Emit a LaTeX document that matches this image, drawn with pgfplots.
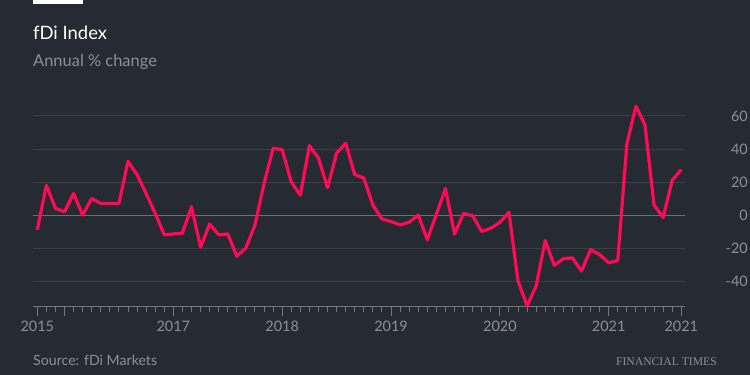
\documentclass[border=0pt]{standalone}
\usepackage{pgfplots}
\pgfplotsset{compat=1.18}
\usepackage{fontspec}
\setmainfont{Lato}
\newfontfamily\ftserif{Liberation Serif}
\definecolor{bg}{HTML}{262A33}
\definecolor{linec}{HTML}{FF0A54}
\definecolor{gridc}{HTML}{3A3E48}
\definecolor{zeroc}{HTML}{6A6D74}
\definecolor{txt}{HTML}{8E9096}
\definecolor{axc}{HTML}{73767D}
\pgfplotstableread{
i v
0 -9
1 18
2 4
3 2
4 13
5 0
6 10
7 7
8 7
9 7
10 32.5
11 24.5
12 13
13 1
14 -12
15 -11.5
16 -11
17 5
18 -19.5
19 -5.5
20 -12
21 -11.5
22 -25
23 -20
24 -6
25 19
26 40.5
27 39.5
28 20
29 12
30 42
31 34.5
32 16.5
33 37.5
34 43.5
35 24.5
36 22.4
37 6
38 -2.4
39 -4
40 -6
41 -4.4
42 0
43 -15
44 0.5
45 16
46 -11.5
47 1
48 -0.5
49 -10
50 -8
51 -4.5
52 1.6
53 -40
54 -55
55 -43
56 -15.5
57 -30.5
58 -26.5
59 -26
60 -34
61 -21
62 -24
63 -29
64 -27.5
65 43
66 66
67 54.5
68 6
69 -1.5
70 21
71 27.5
}\fdidata
\begin{document}
\begin{tikzpicture}
\fill[bg] (0bp,0bp) rectangle (750bp,375bp);
\useasboundingbox (0bp,0bp) rectangle (750bp,375bp);
\fill[white] (33bp,370.5bp) rectangle (83bp,375bp);
\node[anchor=base west, inner sep=0, text=white, font=\fontsize{18.5}{18.5}\selectfont] at (33bp,335.7bp) {fDi Index};
\node[anchor=base west, inner sep=0, text=txt, font=\fontsize{16.5}{16.5}\selectfont] at (33bp,308.3bp) {Annual \% change};
\node[anchor=base west, inner sep=0, text=txt, font=\fontsize{14.2}{14.2}\selectfont] at (33bp,10bp) {Source: fDi Markets};
\node[anchor=base east, inner sep=0, text=txt, font=\ftserif\fontsize{11.7}{11.7}\selectfont] at (717bp,10bp) {FINANCIAL TIMES};
\begin{axis}[
  at={(33.5bp,69bp)}, anchor=south west, scale only axis,
  width=651.5bp, height=206.5bp,
  xmin=-0.42, xmax=71.41, ymin=-55.15, ymax=70,
  clip=false,
  separate axis lines,
  axis x line*=bottom, axis y line*=right,
  x axis line style={-, axc, line width=1bp},
  y axis line style={draw=none},
  tick align=outside,
  xtick={0,15,27,39,51,63,71},
  xticklabels={2015,2017,2018,2019,2020,2021,2021},
  minor xtick={0,1,...,71},
  major tick length=6bp, minor tick length=6bp,
  x tick style={axc, line width=1bp},
  extra x ticks={0,3,15,27,39,51,63,71},
  extra x tick labels={},
  extra x tick style={major tick length=10bp},
  xticklabel style={text=txt, font=\fontsize{14.5}{14.5}\selectfont, inner sep=0, anchor=base, yshift=-19bp},
  ytick={-40,-20,20,40,60},
  yticklabels={-40,-20,20,40,60},
  extra y ticks={0},
  extra y tick labels={0},
  extra y tick style={grid style={zeroc, line width=1bp}},
  y tick style={draw=none},
  ymajorgrids,
  grid style={gridc, line width=1bp},
  yticklabel style={text=txt, font=\fontsize{14.5}{14.5}\selectfont, inner sep=0, anchor=east, xshift=57bp},
]
\addplot[linec, line width=3.2bp, line join=round] table[x=i, y=v] {\fdidata};
\end{axis}
\end{tikzpicture}
\end{document}
